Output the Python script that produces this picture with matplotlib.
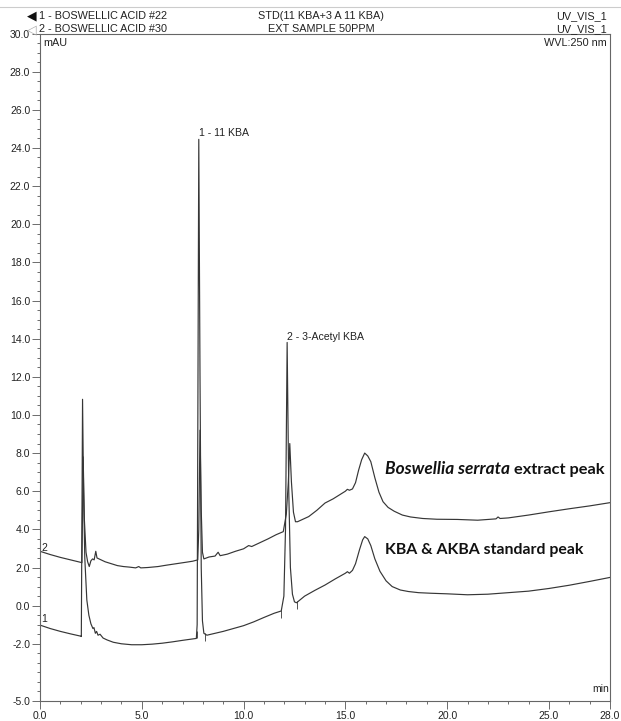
import numpy as np
import matplotlib
matplotlib.use('Agg')
import matplotlib.pyplot as plt
from matplotlib.ticker import MultipleLocator, FixedLocator, FormatStrFormatter

# trace 1: standard (11 KBA + 3-acetyl 11 KBA)
std_time = [0.0, 0.5, 1.0, 1.5, 2.0, 2.03, 2.09, 2.14, 2.2, 2.3, 2.4, 2.5, 2.6, 2.65,
            2.72, 2.78, 2.85, 2.95, 3.1, 3.3, 3.6, 4.0, 4.5, 5.0, 5.5, 6.0, 6.5, 7.0,
            7.4, 7.68, 7.72, 7.80, 7.86, 7.92, 7.98, 8.05, 8.2, 8.6, 9.0, 9.5, 10.0,
            10.5, 11.0, 11.5, 11.85, 11.98, 12.06, 12.14, 12.22, 12.3, 12.4, 12.5,
            12.6, 13.0, 13.5, 14.0, 14.5, 15.0, 15.1, 15.2, 15.35, 15.5, 15.7, 15.85,
            15.95, 16.1, 16.25, 16.45, 16.7, 17.0, 17.3, 17.7, 18.1, 18.6, 19.2, 20.0,
            21.0, 22.0, 23.0, 24.0, 25.0, 26.0, 27.0, 28.0]
std_mau = [-1.02, -1.2, -1.35, -1.48, -1.6, -1.62, 10.82, 6.0, 2.5, 0.3, -0.5, -0.95,
           -1.2, -1.15, -1.45, -1.35, -1.55, -1.5, -1.7, -1.8, -1.92, -2.0, -2.05,
           -2.05, -2.02, -1.97, -1.9, -1.82, -1.76, -1.72, -1.0, 24.45, 12.0, 2.0,
           -0.8, -1.45, -1.55, -1.45, -1.35, -1.2, -1.05, -0.85, -0.62, -0.4, -0.28,
           0.5, 4.0, 13.8, 6.0, 2.0, 0.6, 0.2, 0.15, 0.5, 0.8, 1.08, 1.4, 1.7, 1.78,
           1.7, 1.85, 2.2, 2.95, 3.45, 3.62, 3.5, 3.15, 2.45, 1.8, 1.3, 1.0, 0.82,
           0.74, 0.68, 0.65, 0.62, 0.57, 0.6, 0.68, 0.76, 0.9, 1.07, 1.27, 1.48]

# trace 2: Boswellia serrata extract 50 ppm
ext_time = [0.0, 0.5, 1.0, 1.5, 2.0, 2.06, 2.12, 2.18, 2.26, 2.34, 2.42, 2.5, 2.58,
            2.66, 2.74, 2.8, 2.9, 3.0, 3.2, 3.5, 3.8, 4.1, 4.4, 4.7, 4.85, 4.95, 5.3,
            5.8, 6.2, 6.7, 7.2, 7.5, 7.75, 7.80, 7.86, 7.92, 7.98, 8.05, 8.3, 8.6,
            8.75, 8.85, 9.2, 9.6, 10.0, 10.25, 10.4, 10.8, 11.2, 11.6, 11.95, 12.1,
            12.2, 12.27, 12.35, 12.45, 12.55, 12.65, 13.2, 13.6, 14.0, 14.4, 14.7,
            15.0, 15.1, 15.2, 15.35, 15.5, 15.65, 15.8, 15.95, 16.1, 16.25, 16.45,
            16.65, 16.85, 17.1, 17.4, 17.8, 18.2, 18.8, 19.5, 20.5, 21.5, 22.4, 22.5,
            22.6, 23.0, 24.0, 25.0, 26.0, 27.0, 28.0]
ext_mau = [2.85, 2.68, 2.53, 2.4, 2.27, 2.25, 7.8, 4.5, 2.8, 2.3, 2.05, 2.35, 2.45,
           2.4, 2.85, 2.5, 2.45, 2.4, 2.3, 2.2, 2.1, 2.05, 2.02, 1.98, 2.05, 1.98,
           2.0, 2.05, 2.12, 2.2, 2.28, 2.33, 2.4, 4.0, 9.2, 5.0, 2.8, 2.45, 2.55, 2.6,
           2.8, 2.62, 2.7, 2.85, 2.98, 3.15, 3.1, 3.3, 3.5, 3.72, 3.88, 4.8, 6.5, 8.5,
           6.5, 4.9, 4.4, 4.4, 4.67, 5.0, 5.38, 5.6, 5.8, 6.0, 6.1, 6.05, 6.12, 6.45,
           7.1, 7.65, 8.0, 7.85, 7.55, 6.7, 5.95, 5.45, 5.15, 4.95, 4.75, 4.65, 4.57,
           4.53, 4.52, 4.48, 4.55, 4.65, 4.57, 4.6, 4.75, 4.92, 5.08, 5.23, 5.4]

# integration start/end marks on the standard trace
mark_times = [7.7, 8.1, 11.85, 12.62]

peak_labels = ['1 - 11 KBA', '2 - 3-Acetyl KBA']
peak_pos = [(7.80, 24.45), (12.14, 13.8)]

y_major = [-5, -2, 0, 2, 4, 6, 8, 10, 12, 14, 16, 18, 20, 22, 24, 26, 28, 30]

W, H = 621, 721
fig = plt.figure(figsize=(W / 100, H / 100), dpi=100)
ax = fig.add_axes([40 / W, 1 - 701 / H, 570 / W, (701 - 33.5) / H])

line_c = '#363636'
ax.plot(std_time, std_mau, color=line_c, lw=0.85)
ax.plot(ext_time, ext_mau, color=line_c, lw=0.85)

mark_y = np.interp(mark_times, std_time, std_mau)
ax.vlines(mark_times, mark_y - 0.35, mark_y + 0.05, color=line_c, lw=0.6)

ax.set_xlim(0, 28)
ax.set_ylim(-5, 30)
ax.xaxis.set_major_locator(FixedLocator([0, 5, 10, 15, 20, 25, 28]))
ax.xaxis.set_minor_locator(MultipleLocator(1))
ax.yaxis.set_major_locator(FixedLocator(y_major))
ax.yaxis.set_minor_locator(MultipleLocator(0.5))
ax.xaxis.set_major_formatter(FormatStrFormatter('%.1f'))
ax.yaxis.set_major_formatter(FormatStrFormatter('%.1f'))

font = ['Liberation Sans', 'DejaVu Sans']
ax.tick_params(which='major', direction='out', length=5.5, width=0.6, color='#555',
               labelsize=7.5, pad=1.5, labelcolor='#222')
ax.tick_params(which='minor', direction='out', length=2.5, width=0.6, color='#555')
for lab in ax.get_xticklabels() + ax.get_yticklabels():
    lab.set_family(font)
for s in ax.spines.values():
    s.set_color('#666')
    s.set_linewidth(0.8)

for lab, (px, py) in zip(peak_labels, peak_pos):
    ax.text(px, py + 0.05, lab, ha='left', va='bottom', fontsize=7.6,
            family=font, color='#222')

ax.text(0.08, 3.0, '2', ha='left', va='center', fontsize=7.5, family=font, color='#222')
ax.text(0.08, -0.7, '1', ha='left', va='center', fontsize=7.5, family=font, color='#222')
ax.text(0.999, 0.01, 'min', transform=ax.transAxes, ha='right', va='bottom',
        fontsize=7.5, family=font, color='#222')

# header
hc = '#222'
y1, y2 = 1 - 16 / H, 1 - 29.5 / H
fig.text(27 / W, y1, '\u25c0', fontsize=9, family='DejaVu Sans', color='#111', va='center')
fig.text(27 / W, y2, '\u25c1', fontsize=9, family='DejaVu Sans', color='#aaa', va='center')
fig.text(39 / W, y1, '1 - BOSWELLIC ACID #22', fontsize=7.8, family=font, color=hc, va='center')
fig.text(39 / W, y2, '2 - BOSWELLIC ACID #30', fontsize=7.8, family=font, color=hc, va='center')
fig.text(321 / W, y1, 'STD(11 KBA+3 A 11 KBA)', fontsize=7.8, family=font, color=hc,
         ha='center', va='center')
fig.text(321 / W, y2, 'EXT SAMPLE 50PPM', fontsize=7.8, family=font, color=hc,
         ha='center', va='center')
fig.text(607 / W, y1, 'UV_VIS_1', fontsize=7.8, family=font, color=hc, ha='right', va='center')
fig.text(607 / W, y2, 'UV_VIS_1', fontsize=7.8, family=font, color=hc, ha='right', va='center')
fig.text(607 / W, 1 - 43 / H, 'WVL:250 nm', fontsize=7.8, family=font, color=hc,
         ha='right', va='center')
fig.text(43 / W, 1 - 43 / H, 'mAU', fontsize=7.8, family=font, color=hc, va='center')
fig.add_artist(plt.Line2D([0, 1], [1 - 6.5 / H, 1 - 6.5 / H], color='#ccc', lw=0.8))

# annotations
t1 = ax.text(16.94, 7.15, 'Boswellia serrata', fontsize=12.4, family='Lato',
             weight='bold', style='italic', va='center', color='#111')
ax.annotate(' extract peak', xy=(1, 0), xycoords=t1, ha='left', va='bottom',
            fontsize=11.8, family='Lato', weight='bold', color='#111')
ax.text(16.94, 2.92, 'KBA & AKBA standard peak', fontsize=11.4, family='Lato',
        weight='bold', va='center', color='#111')

fig.savefig('out.png', dpi=100, facecolor='white')
